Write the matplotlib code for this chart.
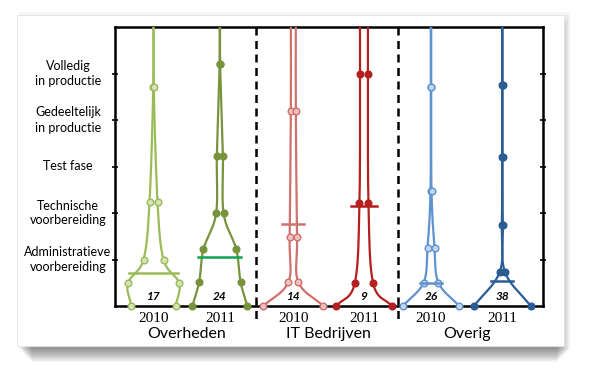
import numpy as np
import matplotlib.pyplot as plt
from matplotlib.patches import FancyBboxPatch
from matplotlib.transforms import blended_transform_factory

# stage labels (y ticks 1..5)
stages = ['Administratieve\nvoorbereiding', 'Technische\nvoorbereiding', 'Test fase',
          'Gedeeltelijk\nin productie', 'Volledig\nin productie']
groups = ['Overheden', 'IT Bedrijven', 'Overig']
years = ['2010', '2011', '2010', '2011', '2010', '2011']
counts = [17, 24, 14, 9, 26, 38]

# per series: levels of the marked points and half-widths at those levels
lv_ov10 = [0, 0.49, 1.0, 2.24, 4.7]
hw_ov10 = [0.31, 0.36, 0.14, 0.056, 0.004]
lv_ov11 = [0, 0.52, 1.22, 1.99, 3.23, 5.2]
hw_ov11 = [0.385, 0.29, 0.23, 0.053, 0.042, 0.004]
lv_it10 = [0, 0.52, 1.49, 4.2]
hw_it10 = [0.42, 0.07, 0.052, 0.035]
lv_it11 = [0, 0.49, 2.22, 5.0]
hw_it11 = [0.39, 0.129, 0.063, 0.056]
lv_ot10 = [0, 0.5, 1.24, 2.48, 4.7]
hw_ot10 = [0.395, 0.105, 0.049, 0.007, 0.003]
lv_ot11 = [0, 0.74, 1.74, 3.2, 4.75]
hw_ot11 = [0.397, 0.035, 0.007, 0.003, 0.003]

# mean stage per series and the half-width of its bar
mean_lv = [0.72, 1.05, 1.76, 2.15, 0.5, 0.54]
mean_hw = [0.34, 0.30, 0.155, 0.18, 0.155, 0.155]

levels = [lv_ov10, lv_ov11, lv_it10, lv_it11, lv_ot10, lv_ot11]
halfw = [hw_ov10, hw_ov11, hw_it10, hw_it11, hw_ot10, hw_ot11]

x_centers = [0.54, 1.47, 2.5, 3.49, 4.43, 5.43]
colors = ['#9bbb59', '#77933c', '#cf716d', '#b41f1f', '#5f93cf', '#2b5c94']
mfc = ['#d5e4b8', '#77933c', '#eec0be', '#b41f1f', '#c2d6ee', '#2b5c94']
bar_colors = ['#9bbb59', '#12a550', '#cf716d', '#b41f1f', '#5f93cf', '#2b5c94']


def smooth(pts, n=40):
    P = np.vstack([2 * pts[0] - pts[1], pts, 2 * pts[-1] - pts[-2]])
    t = np.linspace(0, 1, n)[:, None]
    out = []
    for i in range(1, len(P) - 2):
        p0, p1, p2, p3 = P[i - 1], P[i], P[i + 1], P[i + 2]
        seg = 0.5 * (2 * p1 + (-p0 + p2) * t + (2 * p0 - 5 * p1 + 4 * p2 - p3) * t ** 2
                     + (-p0 + 3 * p1 - 3 * p2 + p3) * t ** 3)
        out.append(seg)
    return np.vstack(out)


plt.rcParams['font.family'] = ['Lato', 'DejaVu Sans']
fig = plt.figure(figsize=(5.95, 3.78), dpi=100)

# card with a soft shadow
W, H = 595, 378
for k in range(14):
    fig.patches.append(FancyBboxPatch(((17 + 2 + k) / W, 1 - (346 + 3 + k) / H),
                                      (547 - 2 * k + 4) / W, (331 - 2 * k + 6) / H,
                                      boxstyle='square,pad=0', transform=fig.transFigure,
                                      fc='#000000', ec='none', alpha=0.035, zorder=-3))
fig.patches.append(FancyBboxPatch((17 / W, 1 - 346 / H), 547 / W, 331 / H,
                                  boxstyle='square,pad=0', transform=fig.transFigure,
                                  fc='white', ec='#e2e2e2', lw=0.6, zorder=-2))

ax = fig.add_axes([115 / W, 1 - 306 / H, 428 / W, 279 / H])
ax.set_facecolor('none')
ax.set_xlim(0, 6)
ax.set_ylim(0, 6)

for i in range(6):
    c = x_centers[i]
    lv = np.array(levels[i] + [6.6])
    hw = np.array(halfw[i] + [halfw[i][-1]])
    for s in (-1, 1):
        pts = np.column_stack([c + s * hw, lv])
        cur = smooth(pts)
        ax.plot(cur[:, 0], cur[:, 1], color=colors[i], lw=1.6, zorder=3, solid_capstyle='round')
        ax.plot(c + s * np.array(halfw[i]), levels[i], 'o', ms=4.8, color=colors[i],
                mfc=mfc[i], mec=colors[i], mew=1.0, zorder=4, clip_on=False)
    ax.plot([c - mean_hw[i], c + mean_hw[i]], [mean_lv[i], mean_lv[i]],
            color=bar_colors[i], lw=1.8, zorder=4)
    ax.text(c, 0.2, str(counts[i]), ha='center', va='center', fontsize=8.5,
            fontweight='bold', style='italic', zorder=5)
    ax.text(c, -0.26, years[i], ha='center', va='center', fontsize=11,
            family='Liberation Serif')

for i, g in enumerate(groups):
    ax.text((x_centers[2 * i] + x_centers[2 * i + 1]) / 2, -0.6, g, ha='center',
            va='center', fontsize=11.5)

for xd in (1.98, 3.97):
    ax.plot([xd, xd], [6, -0.3], color='black', lw=1.8, ls=(0, (3.2, 2.2)),
            clip_on=False, zorder=2)

for sp in ax.spines.values():
    sp.set_linewidth(1.8)
ax.set_xticks([])
ax.set_yticks([1, 2, 3, 4, 5])
ax.set_yticklabels([])
ax.tick_params(axis='y', direction='inout', length=5, width=1.2, left=True, right=True)

tr = blended_transform_factory(fig.transFigure, ax.transData)
for k, lab in enumerate(stages):
    ax.text(68 / W, k + 1, lab, transform=tr, ha='center', va='center',
            fontsize=9, linespacing=1.3)

fig.savefig('out.png', dpi=100, facecolor='white')
